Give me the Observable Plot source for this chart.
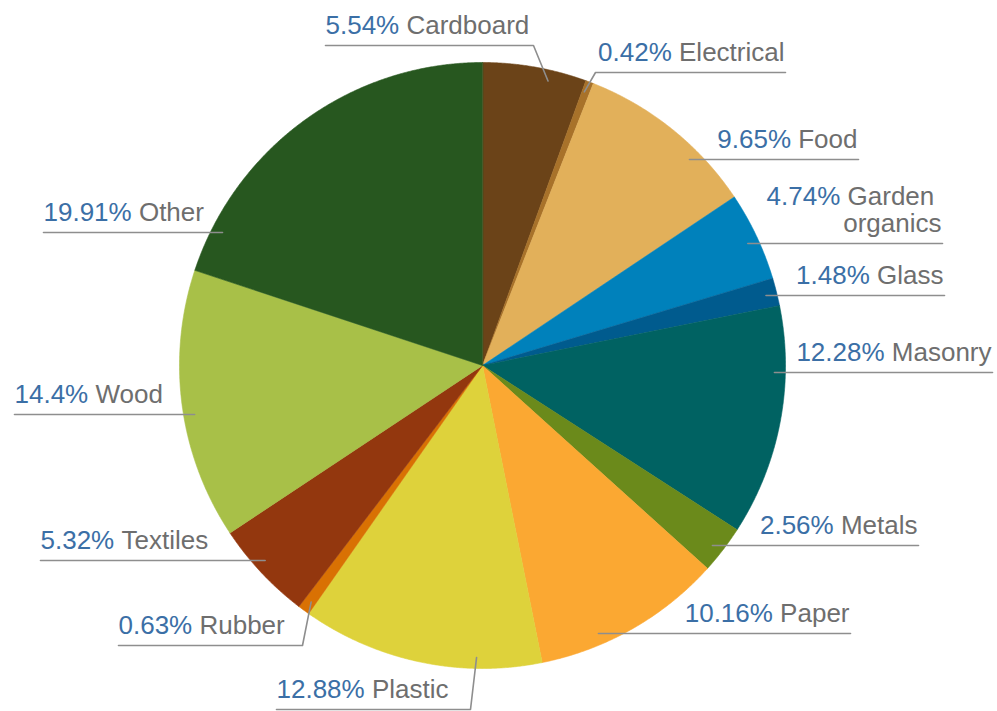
<!DOCTYPE html>
<html><head><meta charset="utf-8">
<script src="https://cdn.jsdelivr.net/npm/d3@7"></script>
<script src="https://cdn.jsdelivr.net/npm/@observablehq/plot@0.6"></script>
<style>html,body{margin:0;padding:0;background:#fff}#chart svg{display:block}</style>
</head><body><div id="chart"></div>
<script>
// ---- data ----
const categories = ["Cardboard","Electrical","Food","Garden organics","Glass","Masonry","Metals","Paper","Plastic","Rubber","Textiles","Wood","Other"];
const percents = [5.54,0.42,9.65,4.74,1.48,12.28,2.56,10.16,12.88,0.63,5.32,14.4,19.91];
const sliceColors = ["#6b4318","#a8722a","#e2b05a","#0081bb","#005b8e","#006262","#6b8a1b","#fba832","#ded23b","#d97103","#93370e","#a8c048","#27571f"];

// ---- label layout (annotation placement) ----
const labelSide   = ["left","right","right","right","right","right","right","right","left","left","left","left","left"];
const labelOuterX = [325,785,858,942,944,992,918,850,276,118,40,14,43];
const labelLineY  = [45,72,159,243,295,372,545,633,709,645,560,414,232];
const labelInnerX = [533,595,null,null,null,null,null,null,470,302,null,null,null];
const anchorT     = [0.65,0.3,null,null,null,null,null,null,0.27,0.4,null,null,null];

const W = 997, H = 711, cx = 482, cy = 365, R = 303, r0 = 292;
const FONT = "Liberation Sans, Arial, sans-serif", FS = 26;
const pctColor = "#3b6fa6", nameColor = "#6e6e6e", lineColor = "#8e8e8e";

const arcs = d3.pie().sort(null).startAngle(0).endAngle(2*Math.PI)(percents);
const px = a => cx + R*Math.sin(a), py = a => cy - R*Math.cos(a);

// slice polygons
const slicePts = [];
arcs.forEach((a, i) => {
  const n = Math.max(2, Math.ceil((a.endAngle - a.startAngle) / (Math.PI/720)));
  slicePts.push({cat: categories[i], color: sliceColors[i], x: cx, y: cy});
  for (let k = 0; k <= n; k++) {
    const t = a.startAngle + (a.endAngle - a.startAngle) * k / n;
    slicePts.push({cat: categories[i], color: sliceColors[i], x: px(t), y: py(t)});
  }
});

// text measurement
const ctx = document.createElement("canvas").getContext("2d");
ctx.font = `${FS}px ${FONT}`;
const tw = s => ctx.measureText(s).width;

const leaderPts = [], pctTexts = [], nameTexts = [];
categories.forEach((c, i) => {
  const a = arcs[i];
  const ly = labelLineY[i], ox = labelOuterX[i], side = labelSide[i];
  const pts = [{cat: c, x: ox, y: ly}];
  if (labelInnerX[i] == null) {
    const dy = ly - cy;
    const dx = Math.sqrt(r0*r0 - dy*dy);
    pts.push({cat: c, x: side === "right" ? cx + dx : cx - dx, y: ly});
  } else {
    const ang = a.startAngle + anchorT[i] * (a.endAngle - a.startAngle);
    pts.push({cat: c, x: labelInnerX[i], y: ly});
    pts.push({cat: c, x: cx + r0*Math.sin(ang), y: cy - r0*Math.cos(ang)});
  }
  leaderPts.push(...pts);

  const pct = `${percents[i]}%`;
  const ty = ly - 19.8;
  if (c === "Garden organics") {
    const l2 = "organics", l1 = "Garden";
    const endX = ox - 1;
    nameTexts.push({t: l2, x: endX - tw(l2), y: ty});
    const l1Start = endX - tw(" ") - tw(l1);
    nameTexts.push({t: l1, x: l1Start, y: ty - 27});
    pctTexts.push({t: pct, x: l1Start - tw(pct + " "), y: ty - 27});
  } else if (side === "left") {
    pctTexts.push({t: pct, x: ox, y: ty});
    nameTexts.push({t: c, x: ox + tw(pct + " "), y: ty});
  } else {
    const ns = ox - 1 - tw(c);
    nameTexts.push({t: c, x: ns, y: ty});
    pctTexts.push({t: pct, x: ns - tw(pct + " "), y: ty});
  }
});

const chart = Plot.plot({
  width: W, height: H, margin: 0,
  style: {background: "#fff"},
  x: {type: "identity", axis: null},
  y: {type: "identity", axis: null},
  color: {type: "identity"},
  marks: [
    Plot.line(slicePts, {x: "x", y: "y", z: "cat", fill: "color", stroke: "color", strokeWidth: 0.6, curve: "linear-closed"}),
    Plot.line(leaderPts, {x: "x", y: "y", z: "cat", stroke: lineColor, strokeWidth: 1.6}),
    Plot.text(pctTexts, {x: "x", y: "y", text: "t", textAnchor: "start", fill: pctColor, fontSize: FS, fontFamily: FONT}),
    Plot.text(nameTexts, {x: "x", y: "y", text: "t", textAnchor: "start", fill: nameColor, fontSize: FS, fontFamily: FONT})
  ]
});
document.getElementById("chart").appendChild(chart);
</script>
</body></html>
